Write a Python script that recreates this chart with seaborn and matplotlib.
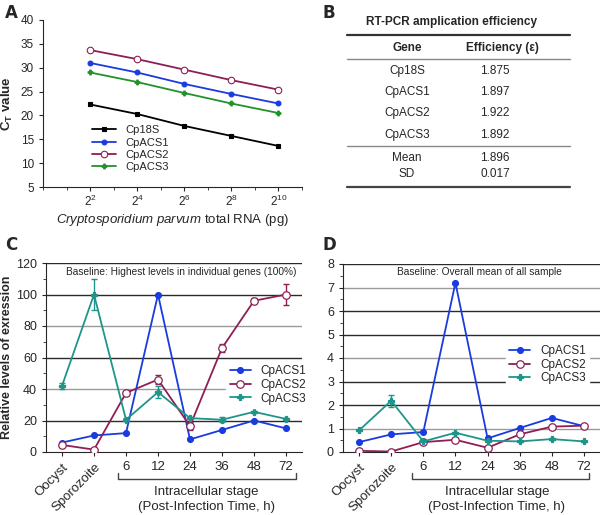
import numpy as np
import pandas as pd
import seaborn as sns
import matplotlib.pyplot as plt
from matplotlib.ticker import MultipleLocator

sns.set_style("ticks")
plt.rcParams['font.family'] = ['Liberation Sans', 'DejaVu Sans']
plt.rcParams['mathtext.fontset'] = 'custom'
plt.rcParams['mathtext.rm'] = 'Liberation Sans'
plt.rcParams['mathtext.it'] = 'Liberation Sans:italic'
plt.rcParams['mathtext.bf'] = 'Liberation Sans:bold'
plt.rcParams['mathtext.default'] = 'regular'

## Panel A data
rna_exp = [2, 4, 6, 8, 10]
ct_18s = [22.3, 20.3, 17.8, 15.7, 13.6]
ct_acs1 = [31.0, 29.0, 26.6, 24.5, 22.5]
ct_acs2 = [33.7, 31.8, 29.6, 27.4, 25.4]
ct_acs3 = [29.0, 27.0, 24.7, 22.5, 20.5]

## Panel B data
genes_b = ["Cp18S", "CpACS1", "CpACS2", "CpACS3"]
efficiency = ["1.875", "1.897", "1.922", "1.892"]
eff_mean = "1.896"
eff_sd = "0.017"

## Panel C/D data
stages = ["Oocyst", "Sporozoite", "6", "12", "24", "36", "48", "72"]
c_acs1 = [6, 10.5, 12, 100, 8, 14, 20, 15]
c_acs2 = [4.5, 1.5, 37.5, 46, 16.5, 66, 96, 100]
c_acs2_err = [0.5, 0.5, 1, 3, 2.5, 2.5, 1.5, 6.5]
c_acs3 = [42, 100, 20.5, 38, 21.5, 20.5, 25.5, 21]
c_acs3_err = [2, 10, 1, 4, 0.5, 1.5, 0.5, 0.5]
d_acs1 = [0.42, 0.75, 0.85, 7.2, 0.58, 1.02, 1.45, 1.1]
d_acs2 = [0.05, 0.02, 0.42, 0.52, 0.18, 0.75, 1.08, 1.12]
d_acs3 = [0.92, 2.18, 0.45, 0.82, 0.48, 0.45, 0.55, 0.45]
d_acs3_err = [0.03, 0.25, 0.03, 0.05, 0.03, 0.03, 0.03, 0.03]

blue = "#1a3be0"
purple = "#8e1f55"
teal = "#1f958a"
green = "#23922a"

fig = plt.figure(figsize=(6, 5.15), dpi=100)
W, H = 600, 515

def box(l, t, r, b):
    return [l / W, 1 - b / H, (r - l) / W, (b - t) / H]

def style_markers(lines, small):
    for ln in lines:
        if ln.get_color() == purple:
            ln.set_markerfacecolor("white")
            ln.set_markeredgecolor(purple)
            ln.set_markersize(small + 1.2)
        else:
            ln.set_markeredgecolor(ln.get_color())
            ln.set_markersize(small)

## Panel A
axA = fig.add_axes(box(43, 20, 302, 187))
dfA = pd.DataFrame({
    "x": rna_exp * 4,
    "ct": ct_18s + ct_acs1 + ct_acs2 + ct_acs3,
    "gene": ["Cp18S"] * 5 + ["CpACS1"] * 5 + ["CpACS2"] * 5 + ["CpACS3"] * 5,
})
palA = {"Cp18S": "black", "CpACS1": blue, "CpACS2": purple, "CpACS3": green}
mkA = {"Cp18S": "s", "CpACS1": "o", "CpACS2": "o", "CpACS3": "P"}
sns.lineplot(data=dfA, x="x", y="ct", hue="gene", style="gene", palette=palA,
             markers=mkA, dashes=False, lw=1.3, ax=axA, markeredgewidth=0.8)
style_markers(axA.get_lines(), 3.5)
axA.set_xlim(0, 11)
axA.set_ylim(5, 40)
axA.set_xticks(rna_exp)
axA.set_xticklabels([f"$2^{{{e}}}$" for e in rna_exp], fontsize=11)
axA.xaxis.set_minor_locator(MultipleLocator(1))
axA.yaxis.set_major_locator(MultipleLocator(5))
axA.tick_params(labelsize=8.5, length=3)
axA.tick_params(axis="x", pad=2)
axA.set_xlabel("$\\it{Cryptosporidium\\ parvum}$ total RNA (pg)", fontsize=9.5,
               labelpad=2)
axA.set_ylabel("C$_T$ value", fontsize=9.5, fontweight="bold")
sns.despine(ax=axA)
leg = axA.legend(loc="lower left", bbox_to_anchor=(0.15, 0.03), frameon=False,
                 fontsize=8, handlelength=2.2, labelspacing=0.2)
style_markers(leg.legend_handles, 3.5)

## Panel B table
axB = fig.add_axes([0, 0, 1, 1])
axB.set_xlim(0, W)
axB.set_ylim(H, 0)
axB.axis("off")
axB.text(452, 22, "RT-PCR amplication efficiency", ha="center", va="center",
         fontsize=8.5, fontweight="bold")
axB.plot([347, 570], [35, 35], color="#333333", lw=1.6)
axB.text(407, 48, "Gene", ha="center", va="center", fontsize=8.5, fontweight="bold")
axB.text(502, 48, "Efficiency (\u03b5)", ha="center", va="center", fontsize=8.5,
         fontweight="bold")
axB.plot([347, 570], [59, 59], color="#888888", lw=1)
row_y = [71, 92, 113, 135]
for g, e, y in zip(genes_b, efficiency, row_y):
    axB.text(407, y, g, ha="center", va="center", fontsize=8.5)
    axB.text(495, y, e, ha="center", va="center", fontsize=8.5)
axB.plot([347, 570], [146, 146], color="#888888", lw=1)
axB.text(407, 158, "Mean", ha="center", va="center", fontsize=8.5)
axB.text(407, 174, "SD", ha="center", va="center", fontsize=8.5)
axB.text(495, 158, eff_mean, ha="center", va="center", fontsize=8.5)
axB.text(495, 174, eff_sd, ha="center", va="center", fontsize=8.5)
axB.plot([347, 570], [187, 187], color="#444444", lw=1.6)

for lab, x, y in [("A", 5, 13), ("B", 322, 13), ("C", 5, 245), ("D", 322, 245)]:
    axB.text(x, y, lab, fontsize=12, fontweight="bold", va="center", ha="left",
             family="DejaVu Sans")


def expression_panel(ax, acs1, acs2, acs3, err2, err3, ymax, ystep, dark, note,
                     leg_anchor, ylabel):
    pos = list(range(len(stages)))
    df = pd.DataFrame({
        "pos": pos * 3,
        "val": acs1 + acs2 + acs3,
        "gene": ["CpACS1"] * 8 + ["CpACS2"] * 8 + ["CpACS3"] * 8,
    })
    pal = {"CpACS1": blue, "CpACS2": purple, "CpACS3": teal}
    mk = {"CpACS1": "o", "CpACS2": "o", "CpACS3": "P"}
    sns.lineplot(data=df, x="pos", y="val", hue="gene", style="gene", palette=pal,
                 markers=mk, dashes=False, lw=1.3, ax=ax,
                 markeredgewidth=0.9, zorder=4)
    style_markers(ax.get_lines(), 4.2)
    if err2 is not None:
        ax.errorbar(pos, acs2, yerr=err2, fmt="none", ecolor=purple, capsize=2.5,
                    lw=1, zorder=3)
    ax.errorbar(pos, acs3, yerr=err3, fmt="none", ecolor=teal, capsize=2.5,
                lw=1, zorder=3)
    for v in np.arange(ystep, ymax + ystep / 2, ystep):
        c = "#2b2b2b" if round(v / ystep) in dark else "#9a9a9a"
        ax.axhline(v, color=c, lw=1, zorder=1)
    ax.set_ylim(0, ymax)
    ax.set_xlim(-0.5, 7.5)
    ax.yaxis.set_major_locator(MultipleLocator(ystep))
    ax.yaxis.set_minor_locator(MultipleLocator(ystep / 2))
    ax.set_xticks(pos)
    ax.set_xticklabels(stages, fontsize=9.5)
    for t in ax.get_xticklabels()[:2]:
        t.set_rotation(45)
        t.set_ha("right")
        t.set_rotation_mode("anchor")
    ax.tick_params(axis="y", labelsize=9, length=3)
    ax.tick_params(axis="x", length=3)
    ax.set_xlabel("")
    ax.set_ylabel(ylabel, fontsize=9, fontweight="bold", labelpad=2)
    sns.despine(ax=ax)
    ax.text(0.53, 0.955, note, transform=ax.transAxes, ha="center", va="center",
            fontsize=7.3)
    lg = ax.legend(loc="upper left", bbox_to_anchor=leg_anchor, frameon=True,
                   fontsize=8.5, handlelength=1.8, labelspacing=0.15,
                   borderpad=0.3, framealpha=1)
    lg.get_frame().set_edgecolor("white")
    lg.set_zorder(5)
    style_markers(lg.legend_handles, 4.2)


axC = fig.add_axes(box(46, 263, 302, 452))
expression_panel(axC, c_acs1, c_acs2, c_acs3, c_acs2_err, c_acs3_err, 120, 20,
                 {1, 3, 5, 6}, "Baseline: Highest levels in individual genes (100%)",
                 (0.68, 0.51), "Relative levels of exression")

axD = fig.add_axes(box(343, 264, 600, 452))
expression_panel(axD, d_acs1, d_acs2, d_acs3, None, d_acs3_err, 8, 1,
                 {2, 3, 5, 6, 8}, "Baseline: Overall mean of all sample",
                 (0.61, 0.62), "")

# brackets under the intracellular stage
for l, r, cx in [(118, 296, 206), (412, 589, 497)]:
    axB.plot([l, l, r, r], [473, 479, 479, 473], color="#444444", lw=1)
    axB.text(cx, 492, "Intracellular stage", ha="center", va="center", fontsize=9.5)
    axB.text(cx, 507, "(Post-Infection Time, h)", ha="center", va="center",
             fontsize=9.5)

fig.savefig("out.png", dpi=100)
